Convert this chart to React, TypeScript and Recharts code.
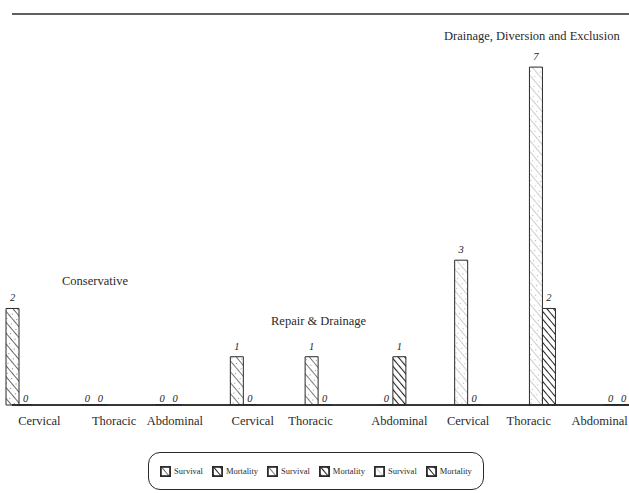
import { BarChart, Bar, Cell, XAxis, YAxis, LabelList, ReferenceLine, Legend } from "recharts";

const groups = ["Conservative", "Repair & Drainage", "Drainage, Diversion and Exclusion"];
const sites = ["Cervical", "Thoracic", "Abdominal"];
const seriesNames = ["Survival", "Mortality"];
const survival = [2, 0, 0, 1, 1, 0, 3, 7, 0];
const mortality = [0, 0, 0, 0, 0, 1, 0, 2, 0];
const yMax = 8.1;

const rows = survival.map((s, i) => ({
  site: sites[i % 3],
  group: groups[Math.floor(i / 3)],
  survival: s,
  mortality: mortality[i],
}));

const FONT = "'Liberation Serif', 'Times New Roman', serif";
const INK = "#2a2a2a";
const survivalFills = ["url(#survA)", "url(#survB)", "url(#survC)"];
const mortalityFills = ["url(#mortA)", "url(#mortB)", "url(#mortC)"];

// the scanned labels are not centred on their bars; nudge them to match
const tickNudge = [20, 20, 6, 9, -8, 6, 0, -14, -18];

// where the three group captions sit on the page
const captionSpots = [
  { left: 62, top: 274 },
  { left: 271, top: 314 },
  { left: 444, top: 29 },
];

function SiteTick(props: any) {
  const { x, y, payload, index } = props;
  return (
    <text x={x + tickNudge[index]} y={y + 12} textAnchor="middle" fontSize={12.5} fontFamily={FONT} fill={INK}>
      {payload.value}
    </text>
  );
}

function valueLabel(props: any) {
  const vb = props.viewBox ?? props;
  const { x, y, width } = vb;
  const value = props.value;
  if (value === null || value === undefined || x === undefined) return null;
  const zero = value === 0;
  return (
    <text
      x={x + width / 2}
      y={zero ? y - 2.5 : y - 7}
      textAnchor="middle"
      fontSize={10.5}
      fontStyle="italic"
      fontFamily={FONT}
      fill="#222222"
      stroke="none"
    >
      {String(value)}
    </text>
  );
}

function hatch(id: string, gap: number, width: number, color: string, dots?: string) {
  return (
    <pattern id={id} width={gap} height={gap} patternUnits="userSpaceOnUse" patternTransform="rotate(-40)">
      <rect width={gap} height={gap} fill="#fff" />
      <line x1={0} y1={0} x2={0} y2={gap} stroke={color} strokeWidth={width} />
      {dots && <circle cx={gap / 2} cy={gap / 2} r={0.6} fill={dots} />}
    </pattern>
  );
}

function renderLegend() {
  return (
    <div
      style={{
        boxSizing: "border-box",
        width: "100%",
        height: "100%",
        border: `1.5px solid ${INK}`,
        borderRadius: 12,
        display: "flex",
        alignItems: "center",
        justifyContent: "center",
        gap: 9,
        fontFamily: FONT,
        fontSize: 8.5,
        color: INK,
      }}
    >
      {groups.flatMap((g, gi) =>
        seriesNames.map((n, si) => (
          <span key={`${g}-${n}`} style={{ display: "flex", alignItems: "center" }}>
            <svg width={11} height={11}>
              <rect
                x={0.9}
                y={0.9}
                width={9.2}
                height={9.2}
                fill={si === 0 ? survivalFills[gi] : mortalityFills[gi]}
                stroke={INK}
                strokeWidth={1.8}
              />
            </svg>
            <span style={{ marginLeft: 3 }}>{n}</span>
          </span>
        ))
      )}
    </div>
  );
}

export default function App() {
  return (
    <div style={{ position: "absolute", left: 0, top: 0, width: 629, height: 493, background: "#fff", fontFamily: FONT }}>
      <BarChart
        width={629}
        height={493}
        data={rows}
        margin={{ top: 14, right: 0, left: 12, bottom: 0 }}
        barGap={0}
        barSize={13}
      >
        <defs>
          {hatch("survA", 7, 1.4, "#262626", "#666")}
          {hatch("survB", 7, 1.3, "#333", "#888")}
          {hatch("survC", 7, 0.9, "#909090", "#aaa")}
          {hatch("mortA", 5, 2, "#222")}
          {hatch("mortB", 5, 2.2, "#222")}
          {hatch("mortC", 5, 2, "#222")}
        </defs>
        <XAxis
          dataKey="site"
          interval={0}
          axisLine={{ stroke: INK, strokeWidth: 1.5 }}
          tickLine={false}
          tick={SiteTick}
          padding={{ left: -30, right: -26 }}
          height={50}
        />
        <YAxis domain={[0, yMax]} tick={false} tickLine={false} width={0} axisLine={{ stroke: INK, strokeWidth: 1.5 }} />
        <Legend
          content={renderLegend}
          wrapperStyle={{ position: "absolute", left: 148, top: 452, width: 336, height: 38 }}
        />
        <Bar dataKey="survival" name="Survival" stroke={INK} strokeWidth={1} minPointSize={0.5} isAnimationActive={false}>
          {rows.map((r, i) => (
            <Cell key={i} fill={survivalFills[Math.floor(i / 3)]} />
          ))}
          <LabelList dataKey="survival" content={valueLabel} />
        </Bar>
        <Bar dataKey="mortality" name="Mortality" stroke={INK} strokeWidth={1} minPointSize={0.5} isAnimationActive={false}>
          {rows.map((r, i) => (
            <Cell key={i} fill={mortalityFills[Math.floor(i / 3)]} />
          ))}
          <LabelList dataKey="mortality" content={valueLabel} />
        </Bar>
        <ReferenceLine y={yMax} stroke={INK} strokeWidth={1.5} />
        <ReferenceLine y={0} stroke={INK} strokeWidth={1.5} />
      </BarChart>
      {groups.map((g, i) => (
        <div
          key={g}
          style={{ position: "absolute", left: captionSpots[i].left, top: captionSpots[i].top, fontSize: 12.5, color: INK, whiteSpace: "nowrap" }}
        >
          {g}
        </div>
      ))}
    </div>
  );
}
